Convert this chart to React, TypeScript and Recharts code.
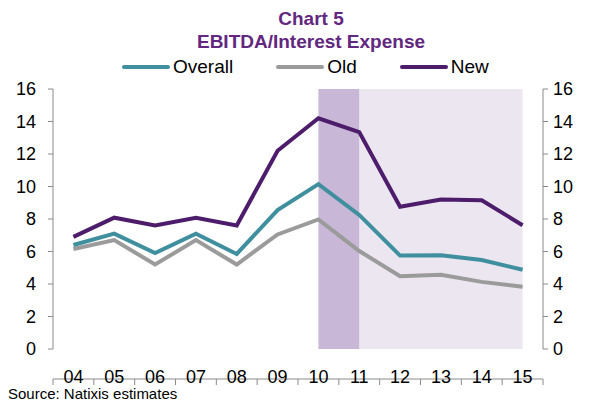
import { LineChart, Line, XAxis, YAxis, ReferenceArea } from "recharts";

const years = [4, 5, 6, 7, 8, 9, 10, 11, 12, 13, 14, 15];
const overall = [6.4, 7.1, 5.9, 7.1, 5.85, 8.55, 10.15, 8.25, 5.75, 5.77, 5.48, 4.88];
const old = [6.15, 6.7, 5.2, 6.7, 5.2, 7.05, 7.97, 6.03, 4.48, 4.57, 4.13, 3.83];
const newer = [6.9, 8.08, 7.6, 8.08, 7.6, 12.2, 14.2, 13.35, 8.75, 9.2, 9.15, 7.62];
const yTicks = [0, 2, 4, 6, 8, 10, 12, 14, 16];
const boundaries = [3.5, 4.5, 5.5, 6.5, 7.5, 8.5, 9.5, 10.5, 11.5, 12.5, 13.5, 14.5, 15.5];

const data = years.map((y, i) => ({
  year: y,
  overall: overall[i],
  old: old[i],
  newer: newer[i],
}));

const FONT = "'Liberation Sans', Arial, sans-serif";
const AXIS = "#8a8a8a";
const TEAL = "#3f8f9f";
const GREY = "#9b9b9b";
const PURPLE = "#4d1d6c";

const legendItems = [
  { label: "Overall", color: TEAL },
  { label: "Old", color: GREY },
  { label: "New", color: PURPLE },
];

const tickStyle = { fill: "#000", fontSize: 18, fontFamily: FONT };

export default function App() {
  return (
    <div style={{ position: "absolute", left: 0, top: 0, width: 600, height: 408, background: "#fff", fontFamily: FONT }}>
      <div style={{ position: "absolute", top: 7, left: 0, width: 622, textAlign: "center", color: "#62277f", fontWeight: "bold", fontSize: 19, lineHeight: "23px" }}>
        <div>Chart 5</div>
        <div>EBITDA/Interest Expense</div>
      </div>
      <div style={{ position: "absolute", top: 56, left: 122, display: "flex", alignItems: "center", fontSize: 19, color: "#000" }}>
        {legendItems.map((it) => (
          <div key={it.label} style={{ display: "flex", alignItems: "center", marginRight: 43 }}>
            <div style={{ width: 48, height: 4, background: it.color, borderRadius: 2, marginRight: 3 }} />
            <span>{it.label}</span>
          </div>
        ))}
      </div>
      <LineChart width={600} height={408} data={data} margin={{ top: 89, right: 7, bottom: 28, left: 8 }}>
        <XAxis
          xAxisId="marks"
          dataKey="year"
          type="number"
          domain={[3.5, 15.5]}
          ticks={boundaries}
          tickFormatter={() => ""}
          height={1}
          stroke={AXIS}
          tickSize={6}
          allowDecimals
        />
        <XAxis
          dataKey="year"
          type="number"
          domain={[3.5, 15.5]}
          ticks={years}
          tickFormatter={(v: number) => String(v).padStart(2, "0")}
          axisLine={false}
          tickLine={false}
          tickSize={6}
          tickMargin={15}
          height={30}
          tick={tickStyle}
        />
        <YAxis
          yAxisId="left"
          domain={[0, 16]}
          ticks={yTicks}
          width={45}
          stroke={AXIS}
          axisLine={{ stroke: AXIS }}
          tickSize={5}
          tickMargin={12}
          tick={tickStyle}
        />
        <YAxis
          yAxisId="right"
          orientation="right"
          domain={[0, 16]}
          ticks={yTicks}
          width={50}
          stroke={AXIS}
          tickSize={5}
          tickMargin={5}
          tick={tickStyle}
        />
        <ReferenceArea xAxisId="marks" yAxisId="right" x1={11} x2={15} y1={0} y2={16} fill="#ebe6f0" fillOpacity={1} stroke="none" />
        <ReferenceArea xAxisId="marks" yAxisId="right" x1={10} x2={11} y1={0} y2={16} fill="#c8b7d6" fillOpacity={1} stroke="none" />
        <Line xAxisId="marks" yAxisId="right" dataKey="newer" stroke="none" strokeWidth={0} dot={false} legendType="none" isAnimationActive={false} />
        <Line yAxisId="left" dataKey="old" stroke={GREY} strokeWidth={4} dot={false} isAnimationActive={false} />
        <Line yAxisId="left" dataKey="overall" stroke={TEAL} strokeWidth={4} dot={false} isAnimationActive={false} />
        <Line yAxisId="left" dataKey="newer" stroke={PURPLE} strokeWidth={4} dot={false} isAnimationActive={false} />
      </LineChart>
      <div style={{ position: "absolute", left: 8, top: 385, fontSize: 15, color: "#000" }}>Source: Natixis estimates</div>
    </div>
  );
}
